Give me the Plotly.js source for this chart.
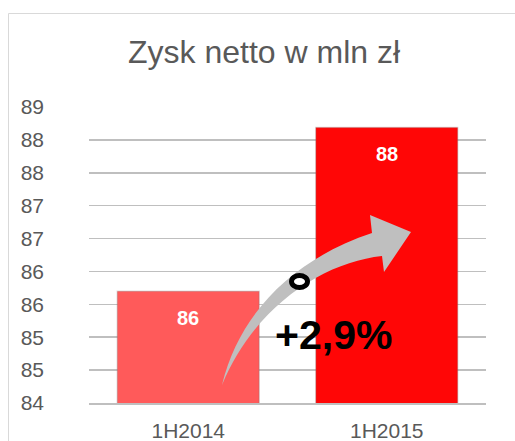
<!DOCTYPE html>
<html>
<head>
<meta charset="utf-8">
<script src="https://cdn.plot.ly/plotly-3.0.1.min.js"></script>
<style>
html,body{margin:0;padding:0;background:#fff;}
#chart{width:515px;height:441px;}
</style>
</head>
<body>
<div id="chart"></div>
<script>
// ---- data ----
const categories = ["1H2014", "1H2015"];
const values = [85.70, 88.19];
const barColors = ["#FF5A5A", "#FF0606"];
const tickVals = [84, 84.5, 85, 85.5, 86, 86.5, 87, 87.5, 88, 88.5];
const tickText = ["84", "85", "85", "86", "86", "87", "87", "88", "88", "89"];
const titleText = "Zysk netto w mln zł";

// ---- layout geometry (pixels) ----
const W = 515, H = 441;
const M = {l: 89, r: 29, t: 107, b: 38};
const PW = W - M.l - M.r, PH = H - M.t - M.b;
const px = x => (x - M.l) / PW;
const py = y => (H - M.b - y) / PH;

// growth label computed from the data
const growth = (values[1] / values[0] - 1) * 100;
const growthText = "+" + growth.toFixed(1).replace(".", ",") + "%";

// curved arrow (decoration) in pixel space -> paper
function P(x, y) { return px(x).toFixed(5) + "," + py(y).toFixed(5); }
const arrowPath =
  "M" + P(222, 385) +
  " C" + P(240, 310) + " " + P(297, 258) + " " + P(372, 233) +
  " L" + P(370, 215) +
  " L" + P(411, 232) +
  " L" + P(384, 272) +
  " L" + P(382, 256) +
  " C" + P(325, 262) + " " + P(255, 305) + " " + P(222, 385) + " Z";

const trace = {
  type: "bar",
  x: categories,
  y: values,
  marker: {color: barColors, line: {color: "rgba(120,120,120,0.25)", width: 1.5}},
  hoverinfo: "skip"
};

const layout = {
  width: W, height: H,
  margin: M,
  paper_bgcolor: "#ffffff",
  plot_bgcolor: "#ffffff",
  showlegend: false,
  bargap: 0.285,
  font: {family: "Liberation Sans, Arial, sans-serif", color: "#595959"},
  title: {
    text: titleText,
    font: {size: 32, color: "#595959", family: "Liberation Sans, Arial, sans-serif"},
    x: 264 / W, xref: "container", xanchor: "center",
    y: 1 - 52 / H, yref: "container", yanchor: "middle"
  },
  xaxis: {
    type: "category",
    showgrid: false,
    zeroline: false,
    showline: true,
    linecolor: "#BFBFBF",
    linewidth: 1.5,
    ticks: "",
    ticklabelstandoff: 8,
    tickfont: {size: 21, color: "#595959"}
  },
  yaxis: {
    range: [84, 88.5],
    tickmode: "array",
    tickvals: tickVals,
    ticktext: tickText,
    showgrid: true,
    gridcolor: "#BFBFBF",
    gridwidth: 1.5,
    zeroline: false,
    showline: false,
    ticks: "",
    ticklabelstandoff: 44,
    tickfont: {size: 21, color: "#595959"}
  },
  shapes: [
    {type: "rect", xref: "paper", yref: "paper", layer: "below",
     x0: px(8.5), x1: px(540), y0: py(13.5), y1: py(470),
     line: {color: "#D9D9D9", width: 1}, fillcolor: "rgba(0,0,0,0)"},
    {type: "path", xref: "paper", yref: "paper", layer: "above",
     path: arrowPath, fillcolor: "#BFBFBF", line: {width: 0}},
    {type: "circle", xref: "paper", yref: "paper", layer: "above",
     x0: px(291.5), x1: px(307.5), y0: py(287.5), y1: py(275.5),
     fillcolor: "#ffffff", line: {color: "#000000", width: 5}}
  ],
  annotations: categories.map((c, i) => ({
    x: c, y: values[i], xref: "x", yref: "y",
    text: values[i].toFixed(0),
    showarrow: false, yanchor: "middle", yshift: -27,
    font: {size: 20, color: "#ffffff", family: "Liberation Sans, Arial, sans-serif", weight: "bold"}
  })).concat([{
    x: px(333), y: py(335), xref: "paper", yref: "paper",
    text: "<b>" + growthText + "</b>",
    showarrow: false, xanchor: "center", yanchor: "middle",
    font: {size: 41, color: "#000000", family: "Liberation Sans, Arial, sans-serif"}
  }])
};

Plotly.newPlot("chart", [trace], layout, {staticPlot: true, displayModeBar: false});
</script>
</body>
</html>
